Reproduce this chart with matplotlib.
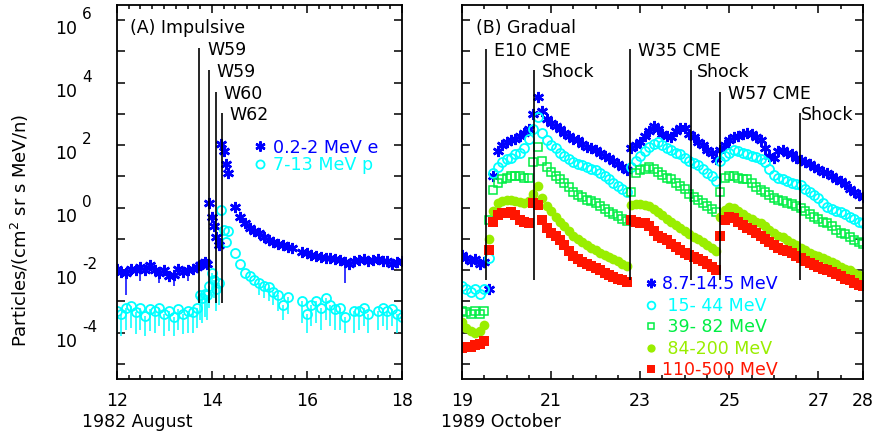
import numpy as np
import matplotlib.pyplot as plt
from matplotlib.ticker import FixedLocator, MultipleLocator, NullFormatter, NullLocator

plt.rcParams['font.family'] = ['DejaVu Sans']
plt.rcParams['font.size'] = 12.5

nan = np.nan

# ---- (A) impulsive event, 1982 August; intensities given as log10
t_aug = [12.0, 12.1, 12.2, 12.3, 12.4, 12.5, 12.6, 12.7, 12.8, 12.9,
         13.0, 13.1, 13.2, 13.3, 13.4, 13.5, 13.6, 13.7,
         13.75, 13.8, 13.85, 13.9, 13.95, 14.0, 14.05, 14.1, 14.15, 14.2,
         14.25, 14.3, 14.35,
         14.5, 14.6, 14.7, 14.8, 14.9, 15.0, 15.1, 15.2, 15.3, 15.4,
         15.5, 15.6, 15.7, 15.8, 15.9, 16.0, 16.1, 16.2, 16.3, 16.4,
         16.5, 16.6, 16.7, 16.8, 16.9, 17.0, 17.1, 17.2, 17.3, 17.4,
         17.5, 17.6, 17.7, 17.8, 17.9, 18.0]
elec_aug = [-1.95, -2.05, -2.1, -1.95, -2.0, -1.9, -2.0, -1.85, -2.0, -2.1,
            -2.0, -2.2, -2.15, -1.95, -2.05, -2.0, -1.95, -1.9,
            -1.85, -1.8, -1.75, -1.8, 0.15, -0.3, -0.6, -0.95, -1.2, 2.05,
            1.8, 1.4, 1.1,
            0.03, -0.3, -0.5, -0.65, -0.75, -0.8, -0.95, -1.05, -1.1, -1.15,
            -1.2, -1.25, -1.3, nan, -1.42, -1.45, -1.5, -1.55, -1.57, -1.6,
            -1.62, -1.65, -1.67, -1.75, -1.8, -1.72, -1.67, -1.65, -1.7, -1.68,
            -1.65, -1.7, -1.72, -1.8, -1.75, -1.7]
elec_lo = [nan, nan, -2.8, nan, nan, -2.35, nan, nan, nan, -2.4,
           nan, nan, -2.5, nan, nan, -2.35, nan, nan,
           nan, nan, nan, nan, nan, nan, nan, nan, nan, nan,
           nan, nan, nan,
           nan, nan, nan, nan, nan, nan, nan, nan, nan, nan,
           nan, nan, nan, nan, nan, nan, nan, nan, nan, nan,
           nan, nan, nan, -2.4, nan, nan, nan, nan, nan, nan,
           nan, nan, nan, nan, nan, nan]
prot_aug = [-3.3, -3.4, -3.2, -3.15, -3.35, -3.2, -3.45, -3.25, -3.3, -3.2,
            -3.4, -3.3, -3.5, -3.25, -3.4, -3.3, -3.35, -3.2,
            -2.8, -2.9, -2.75, -2.8, -2.5, -2.1, -2.3, -2.6, -2.4, -0.07,
            -0.7, -1.1, -0.75,
            -1.45, -1.8, -2.1, -2.2, -2.3, -2.4, -2.5, -2.55, -2.7, -2.8,
            -3.1, -2.85, nan, nan, -3.0, -3.4, -3.1, -3.0, -3.2, -2.9,
            -3.1, -3.25, -3.2, -3.5, nan, -3.3, -3.3, -3.2, -3.4, nan,
            -3.3, -3.2, -3.3, -3.25, -3.4, -3.5]
prot_lo = [-4.0, -4.1, -3.9, -3.85, -4.05, -3.9, -4.1, -3.95, -4.0, -3.8,
           -4.1, -3.95, -4.1, -3.9, -4.05, -4.0, -4.0, -3.85,
           -3.6, -3.7, -3.5, -3.6, -3.2, -2.6, -2.9, -3.3, -3.1, nan,
           nan, nan, nan,
           nan, nan, nan, nan, nan, -2.8, -2.9, -3.0, -3.1, -3.3,
           -3.6, -3.4, nan, nan, -3.7, -4.0, -3.8, -3.7, -3.9, -3.6,
           -3.8, -3.9, -3.9, -4.0, nan, -4.0, -3.9, -3.8, -4.0, nan,
           -3.9, -3.8, -3.9, -3.8, -4.0, -4.0]

aug_event_t = [13.74, 13.94, 14.09, 14.22]
aug_event_top = [5.1, 4.4, 3.7, 3.03]
aug_event_bottom = -3.04
aug_event_names = ['W59', 'W59', 'W60', 'W62']

# ---- (B) gradual event, 1989 October, 0.1 day sampling
t_oct = np.round(np.arange(190, 281) / 10.0, 1)
ch1 = [-1.5, -1.6, -1.7, -1.65, -1.8, -1.75, -2.6, 1.0, 1.8, 2.0,
       2.1, 2.15, 2.2, 2.3, 2.4, 2.5, 3.0, 3.55, 3.1, 2.85,
       2.7, 2.6, 2.5, 2.4, 2.3, 2.2, 2.15, 2.05, 1.95, 1.9,
       1.85, 1.75, 1.65, 1.6, 1.5, 1.4, 1.3, 1.2, 1.9, 2.0,
       2.1, 2.3, 2.45, 2.6, 2.5, 2.35, 2.3, 2.25, 2.45, 2.55,
       2.55, 2.35, 2.25, 2.1, 2.0, 1.85, 1.75, 1.55, 1.85, 2.0,
       2.15, 2.25, 2.3, 2.35, 2.4, 2.35, 2.25, 2.15, 1.9, 1.65,
       1.6, 1.8, 1.85, 1.75, 1.7, 1.6, 1.53, 1.45, 1.4, 1.3,
       1.25, 1.15, 1.1, 1.0, 0.9, 0.85, 0.75, 0.6, 0.5, 0.4,
       0.35]
ch2 = [-2.5, -2.6, -2.7, -2.6, -2.75, -2.6, -1.6, 1.1, 1.3, 1.45,
       1.55, 1.6, 1.7, 1.75, 1.9, 2.2, 2.5, 2.9, 2.4, 2.15,
       2.0, 1.9, 1.75, 1.65, 1.55, 1.45, 1.4, 1.35, 1.3, 1.25,
       1.2, 1.1, 1.0, 0.9, 0.8, 0.7, 0.6, 0.5, 1.3, 1.5,
       1.65, 1.8, 1.95, 2.05, 2.1, 2.0, 1.9, 1.85, 1.75, 1.7,
       1.6, 1.5, 1.43, 1.35, 1.25, 1.1, 1.0, 0.85, 1.5, 1.65,
       1.75, 1.85, 1.8, 1.75, 1.7, 1.65, 1.62, 1.55, 1.45, 1.25,
       1.05, 0.95, 0.9, 0.85, 0.8, 0.75, 0.72, 0.6, 0.5, 0.4,
       0.3, 0.15, 0.02, -0.05, -0.1, -0.15, -0.2, -0.3, -0.35, -0.45,
       -0.5]
ch3 = [-3.3, -3.35, -3.4, -3.3, -3.4, -3.3, -0.4, 0.55, 0.8, 0.9,
       0.95, 1.0, 1.0, 1.0, 0.95, 0.95, 1.45, 1.95, 1.5, 1.3,
       1.15, 1.0, 0.9, 0.8, 0.65, 0.5, 0.4, 0.35, 0.25, 0.2,
       0.15, 0.05, -0.05, -0.15, -0.2, -0.28, -0.35, -0.42, 0.5, 1.1,
       1.2, 1.25, 1.3, 1.25, 1.15, 1.05, 0.95, 0.9, 0.8, 0.7,
       0.6, 0.45, 0.35, 0.25, 0.15, 0.05, -0.05, -0.15, 0.5, 0.95,
       1.0, 1.0, 0.95, 0.9, 0.9, 0.8, 0.65, 0.57, 0.5, 0.4,
       0.3, 0.25, 0.2, 0.15, 0.12, 0.05, 0.0, -0.1, -0.2, -0.3,
       -0.35, -0.45, -0.5, -0.6, -0.7, -0.8, -0.85, -0.95, -1.05, -1.1,
       -1.15]
ch4 = [-3.65, -3.85, -3.95, -4.0, -3.95, -3.75, -1.0, -0.1, 0.15, 0.2,
       0.25, 0.25, 0.22, 0.18, 0.15, 0.2, 0.45, 0.7, 0.3, 0.05,
       -0.1, -0.3, -0.45, -0.6, -0.75, -0.9, -1.0, -1.1, -1.2, -1.3,
       -1.35, -1.45, -1.5, -1.57, -1.65, -1.72, -1.8, -1.88, 0.1, 0.12,
       0.12, 0.1, 0.05, -0.05, -0.15, -0.25, -0.35, -0.45, -0.55, -0.65,
       -0.75, -0.85, -0.93, -1.0, -1.1, -1.2, -1.3, -1.4, -0.3, -0.07,
       0.03, 0.0, -0.1, -0.2, -0.3, -0.35, -0.45, -0.5, -0.6, -0.7,
       -0.8, -0.9, -0.95, -1.05, -1.12, -1.2, -1.3, -1.35, -1.45, -1.5,
       -1.55, -1.62, -1.67, -1.75, -1.8, -1.9, -1.95, -2.0, -2.08, -2.15,
       -2.2]
ch5 = [-4.5, -4.45, -4.45, -4.4, -4.35, -4.25, -1.35, -0.45, -0.25, -0.18,
       -0.18, -0.15, -0.25, -0.4, -0.45, -0.5, 0.15, 0.1, -0.4, -0.65,
       -0.8, -0.9, -1.03, -1.2, -1.4, -1.55, -1.65, -1.75, -1.8, -1.87,
       -1.92, -2.0, -2.1, -2.17, -2.22, -2.27, -2.33, -2.38, -0.4, -0.45,
       -0.5, -0.5, -0.6, -0.75, -0.9, -0.97, -1.05, -1.15, -1.25, -1.35,
       -1.45, -1.52, -1.57, -1.65, -1.72, -1.8, -1.9, -1.98, -0.9, -0.4,
       -0.3, -0.33, -0.45, -0.55, -0.65, -0.7, -0.8, -0.9, -1.0, -1.1,
       -1.2, -1.28, -1.35, -1.4, -1.45, -1.55, -1.62, -1.7, -1.77, -1.85,
       -1.9, -1.95, -1.98, -2.05, -2.12, -2.2, -2.27, -2.33, -2.4, -2.47,
       -2.5]
oct_labels = ['8.7-14.5 MeV', ' 15- 44 MeV', ' 39- 82 MeV', ' 84-200 MeV', '110-500 MeV']

oct_event_t = [19.54, 20.61, 22.77, 24.14, 24.78, 26.58]
oct_event_top = [5.07, 4.4, 5.07, 4.4, 3.7, 3.03]
oct_event_bottom = -2.31
oct_event_names = ['E10 CME', 'Shock', 'W35 CME', 'Shock', 'W57 CME', 'Shock']
oct_name_dx = [6, 6, 6, 4.5, 6, 1]

BLUE, CYAN, GREEN, LIME, RED = '#0000ff', '#00ffff', '#00ee44', '#99ee00', '#ff1500'

W, H = 879, 432
fig = plt.figure(figsize=(W / 100, H / 100), dpi=100)
ax1 = fig.add_axes([116.7 / W, 1 - 379 / H, 285 / W, 374 / H])
ax2 = fig.add_axes([462 / W, 1 - 379 / H, 401 / W, 374 / H])


def lin(v):
    return np.power(10.0, np.asarray(v, dtype=float))


# panel A
p_val = lin(prot_aug)
ax1.errorbar(t_aug, p_val, yerr=[p_val - lin(prot_lo), np.zeros(len(p_val))],
             fmt='none', ecolor=CYAN, elinewidth=1.1)
e_val = lin(elec_aug)
ax1.errorbar(t_aug, e_val, yerr=[e_val - lin(elec_lo), np.zeros(len(e_val))],
             fmt='none', ecolor=BLUE, elinewidth=1.1)
h_e, = ax1.plot(t_aug, e_val, ls='none', marker=(6, 2, 0), ms=8, mew=1.8,
                color=BLUE, label='0.2-2 MeV e')
h_p, = ax1.plot(t_aug, p_val, ls='none', marker='o', ms=6.5, mew=1.3,
                mfc='none', color=CYAN, label='7-13 MeV p')
ax1.vlines(aug_event_t, lin(aug_event_bottom), lin(aug_event_top),
           color='k', lw=1.2, zorder=4)
for t, top, name in zip(aug_event_t, aug_event_top, aug_event_names):
    ax1.annotate(name, (t, lin(top)), xytext=(5.5, -5), textcoords='offset points',
                 va='baseline', ha='left', fontsize=12.5)
ax1.text(0.047, 0.938, '(A) Impulsive', transform=ax1.transAxes,
         va='center', ha='left', fontsize=12.5)
leg1 = ax1.legend(handles=[h_e, h_p], loc='upper left', bbox_to_anchor=(0.485, 0.643),
                  frameon=False, handlelength=0.6, handletextpad=0.45,
                  labelspacing=-0.04, borderpad=0, borderaxespad=0, numpoints=1,
                  fontsize=12.6, labelcolor=[BLUE, CYAN], markerscale=0.9)

# panel B
styles = [dict(marker=(6, 2, 0), ms=8, mew=1.8, color=BLUE),
          dict(marker='o', ms=6.5, mew=1.3, mfc='none', color=CYAN),
          dict(marker='s', ms=5.5, mew=1.1, mfc='none', color=GREEN),
          dict(marker='o', ms=7, mew=0, color=LIME),
          dict(marker='s', ms=6.5, mew=0, color=RED)]
handles = []
for vals, lab, st in zip([ch1, ch2, ch3, ch4, ch5], oct_labels, styles):
    h, = ax2.plot(t_oct, lin(vals), ls='none', label=lab, **st)
    handles.append(h)
ax2.vlines(oct_event_t, lin(oct_event_bottom), lin(oct_event_top),
           color='k', lw=1.2, zorder=4)
for t, top, name, dx in zip(oct_event_t, oct_event_top, oct_event_names, oct_name_dx):
    ax2.annotate(name, (t, lin(top)), xytext=(dx, -5), textcoords='offset points',
                 va='baseline', ha='left', fontsize=12.5)
ax2.text(0.035, 0.938, '(B) Gradual', transform=ax2.transAxes,
         va='center', ha='left', fontsize=12.5)
leg2 = ax2.legend(handles=handles, loc='upper left', bbox_to_anchor=(0.459, 0.277),
                  frameon=False, handlelength=0.6, handletextpad=0.3,
                  labelspacing=0.2, borderpad=0, borderaxespad=0, numpoints=1,
                  fontsize=12.5, labelcolor=[BLUE, CYAN, GREEN, LIME, RED],
                  markerscale=0.85)

# axes styling
decades = list(range(-5, 7))
for ax, xlim, xt, minor in [(ax1, (12, 18), [12, 14, 16, 18], 0.25),
                            (ax2, (19, 28), [19, 21, 23, 25, 27, 28], 0.5)]:
    ax.set_yscale('log')
    ax.set_ylim(lin(-5.48), lin(6.48))
    ax.set_xlim(*xlim)
    ax.yaxis.set_major_locator(FixedLocator(lin(decades)))
    ax.yaxis.set_minor_locator(NullLocator())
    ax.yaxis.set_major_formatter(NullFormatter())
    ax.set_xticks(xt)
    ax.set_xticklabels([str(v) for v in xt])
    ax.xaxis.set_minor_locator(MultipleLocator(minor))
    ax.tick_params(which='both', direction='in', top=True, right=True, width=1.1)
    ax.tick_params(which='major', length=6, pad=9, labelsize=12.5)
    ax.tick_params(which='minor', length=3)
    for s in ax.spines.values():
        s.set_linewidth(1.3)

# y tick labels in the "10 ^n" style
for k in range(-4, 7, 2):
    ax1.annotate('10', (0, lin(k)), xycoords=('axes fraction', 'data'),
                 xytext=(-28.5, -6.5), textcoords='offset points',
                 ha='right', va='center', fontsize=12.5)
    ax1.annotate(str(k), (0, lin(k)), xycoords=('axes fraction', 'data'),
                 xytext=(-25, 3.8), textcoords='offset points',
                 ha='left', va='center', fontsize=11)

fig.text(20 / W, 1 - 230.5 / H, 'Particles/(cm$^2$ sr s MeV/n)', rotation=90,
         ha='center', va='center', fontsize=13)
fig.text(82 / W, 1 - 427 / H, '1982 August', ha='left', va='baseline', fontsize=12.5)
fig.text(441 / W, 1 - 427 / H, '1989 October', ha='left', va='baseline', fontsize=12.5)

fig.savefig('out.png', dpi=100)
